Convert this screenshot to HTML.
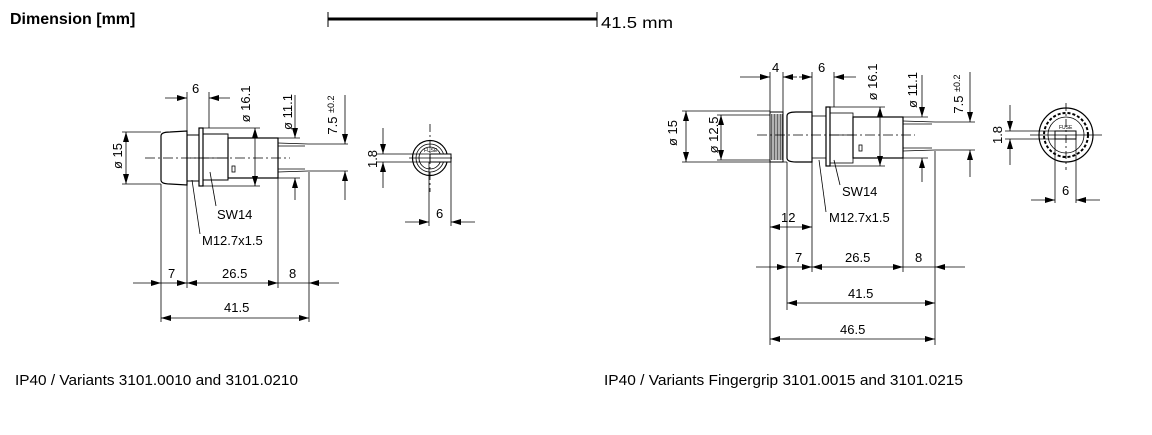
<!DOCTYPE html>
<html><head><meta charset="utf-8"><style>
html,body{margin:0;padding:0;background:#fff;}
svg{display:block;}
text{font-family:"Liberation Sans",Arial,sans-serif;fill:#000;}
</style></head><body>
<svg width="1152" height="435" viewBox="0 0 1152 435" xmlns="http://www.w3.org/2000/svg">
<defs>
<marker id="a" viewBox="0 0 10 6" refX="10" refY="3" markerWidth="10" markerHeight="6" markerUnits="userSpaceOnUse" orient="auto"><path d="M0,0L10,3L0,6z" fill="#000"/></marker>
</defs>
<text x="10" y="24" font-size="16" font-weight="bold">Dimension [mm]</text>
<line x1="328" y1="19" x2="597" y2="19" stroke="#000" stroke-width="3"/>
<line x1="328" y1="12" x2="328" y2="27" stroke="#000" stroke-width="1"/>
<line x1="597" y1="12" x2="597" y2="27" stroke="#000" stroke-width="1"/>
<text x="601" y="28" font-size="16" fill="#333" textLength="72" lengthAdjust="spacingAndGlyphs">41.5 mm</text>

<g stroke="#000" fill="none" stroke-width="0.8">
<!-- LEFT SIDE VIEW -->
<path d="M161,136 Q161,132 170,132 L187,131 L187,185 L170,184 Q161,184 161,180 Z" stroke-width="1.2"/>
<rect x="187" y="135" width="12" height="46" stroke-width="1"/>
<rect x="199" y="128" width="4" height="58" stroke-width="1.2"/>
<rect x="203" y="134" width="25" height="46" stroke-width="1"/>
<line x1="190" y1="158" x2="228" y2="158"/>
<rect x="228" y="138" width="50" height="40" stroke-width="1.2"/>
<rect x="232" y="166" width="3" height="6"/>
<line x1="278" y1="143" x2="308" y2="144"/><line x1="278" y1="146" x2="305" y2="146"/>
<line x1="278" y1="169" x2="305" y2="169"/><line x1="278" y1="172" x2="308" y2="171"/>
<line x1="145" y1="158" x2="290" y2="158" stroke-dasharray="10,3,2,3"/>
<line x1="122" y1="132" x2="161" y2="132"/><line x1="122" y1="184" x2="161" y2="184"/>
<line x1="203" y1="128" x2="260" y2="128"/><line x1="203" y1="186" x2="260" y2="186"/>
<line x1="278" y1="138" x2="300" y2="138"/><line x1="278" y1="178" x2="300" y2="178"/>
<line x1="308" y1="144" x2="348" y2="144"/><line x1="308" y1="171" x2="348" y2="171"/>
<line x1="187" y1="92" x2="187" y2="135"/><line x1="209" y1="92" x2="209" y2="128"/>
<line x1="161" y1="184" x2="161" y2="322"/><line x1="187" y1="185" x2="187" y2="288"/>
<line x1="278" y1="178" x2="278" y2="288"/><line x1="309" y1="172" x2="309" y2="322"/>
<line x1="165" y1="98" x2="187" y2="98" marker-end="url(#a)"/><line x1="230" y1="98" x2="209" y2="98" marker-end="url(#a)"/>
<line x1="126" y1="158" x2="126" y2="132" marker-end="url(#a)"/><line x1="126" y1="158" x2="126" y2="184" marker-end="url(#a)"/>
<line x1="255" y1="158" x2="255" y2="128" marker-end="url(#a)"/><line x1="255" y1="158" x2="255" y2="186" marker-end="url(#a)"/>
<line x1="295" y1="95" x2="295" y2="138" marker-end="url(#a)"/><line x1="295" y1="200" x2="295" y2="178" marker-end="url(#a)"/>
<line x1="345" y1="95" x2="345" y2="144" marker-end="url(#a)"/><line x1="345" y1="200" x2="345" y2="171" marker-end="url(#a)"/>
<line x1="133" y1="283" x2="161" y2="283" marker-end="url(#a)"/><line x1="174" y1="283" x2="187" y2="283" marker-end="url(#a)"/>
<line x1="174" y1="283" x2="161" y2="283"/><line x1="232" y1="283" x2="187" y2="283" marker-end="url(#a)"/>
<line x1="232" y1="283" x2="278" y2="283" marker-end="url(#a)"/><line x1="278" y1="283" x2="309" y2="283"/>
<line x1="339" y1="283" x2="309" y2="283" marker-end="url(#a)"/>
<line x1="235" y1="318" x2="161" y2="318" marker-end="url(#a)"/><line x1="235" y1="318" x2="309" y2="318" marker-end="url(#a)"/>
<line x1="210" y1="172" x2="216" y2="206"/><line x1="192" y1="180" x2="200" y2="234"/>
<!-- LEFT FRONT VIEW -->
<circle cx="430" cy="158" r="17.5" stroke-width="1.2"/><circle cx="430" cy="158" r="14"/><circle cx="430" cy="158" r="11"/>
<rect x="430" y="154" width="21" height="8" fill="#fff" stroke-width="1"/>
<line x1="409" y1="158" x2="452" y2="158"/><line x1="430" y1="124" x2="430" y2="192" stroke-dasharray="8,3,2,3"/>
<line x1="376" y1="154" x2="430" y2="154"/><line x1="376" y1="162" x2="430" y2="162"/>
<line x1="383" y1="128" x2="383" y2="154" marker-end="url(#a)"/><line x1="383" y1="188" x2="383" y2="162" marker-end="url(#a)"/>
<line x1="429" y1="162" x2="429" y2="226"/><line x1="451" y1="162" x2="451" y2="226"/>
<line x1="405" y1="222" x2="429" y2="222" marker-end="url(#a)"/><line x1="475" y1="222" x2="451" y2="222" marker-end="url(#a)"/>

<!-- RIGHT SIDE VIEW -->
<rect x="770" y="112" width="13" height="50" stroke-width="1"/>
<path d="M771.5,114 V160 M773,114 V160 M774.5,114 V160 M776,114 V160 M777.5,114 V160 M779,114 V160 M780.5,114 V160 M782,114 V160" stroke-width="0.6"/>
<path d="M787,116 Q787,112 796,112 L812,112 L812,162 L796,162 Q787,162 787,158 Z" stroke-width="1.2"/>
<rect x="812" y="116" width="14" height="42"/>
<rect x="826" y="107" width="4" height="59" stroke-width="1.2"/>
<rect x="830" y="113" width="23" height="50"/>
<line x1="830" y1="135" x2="853" y2="135"/>
<rect x="853" y="117" width="50" height="41" stroke-width="1.2"/>
<rect x="859" y="145" width="3" height="6"/>
<line x1="903" y1="121" x2="935" y2="122"/><line x1="903" y1="124" x2="932" y2="124"/>
<line x1="903" y1="148" x2="932" y2="148"/><line x1="903" y1="151" x2="935" y2="150"/>
<line x1="757" y1="135" x2="915" y2="135" stroke-dasharray="10,3,2,3"/>
<line x1="682" y1="111" x2="770" y2="111"/><line x1="682" y1="162" x2="787" y2="162"/>
<line x1="717" y1="115" x2="770" y2="115"/><line x1="717" y1="160" x2="770" y2="160"/>
<line x1="830" y1="107" x2="885" y2="107"/><line x1="830" y1="166" x2="885" y2="166"/>
<line x1="903" y1="117" x2="928" y2="117"/><line x1="903" y1="158" x2="928" y2="158"/>
<line x1="935" y1="122" x2="975" y2="122"/><line x1="935" y1="150" x2="975" y2="150"/>
<line x1="770" y1="72" x2="770" y2="345"/><line x1="783" y1="72" x2="783" y2="112"/>
<line x1="812" y1="72" x2="812" y2="112"/><line x1="834" y1="72" x2="834" y2="107"/>
<line x1="787" y1="162" x2="787" y2="310"/><line x1="812" y1="162" x2="812" y2="272"/>
<line x1="903" y1="158" x2="903" y2="272"/><line x1="935" y1="151" x2="935" y2="345"/>
<line x1="740" y1="77" x2="770" y2="77" marker-end="url(#a)"/><line x1="797" y1="77" x2="783" y2="77" marker-end="url(#a)"/>
<line x1="799" y1="77" x2="812" y2="77" marker-end="url(#a)"/><line x1="856" y1="77" x2="834" y2="77" marker-end="url(#a)"/>
<line x1="686" y1="135" x2="686" y2="111" marker-end="url(#a)"/><line x1="686" y1="135" x2="686" y2="162" marker-end="url(#a)"/>
<line x1="721" y1="135" x2="721" y2="115" marker-end="url(#a)"/><line x1="721" y1="135" x2="721" y2="160" marker-end="url(#a)"/>
<line x1="880" y1="135" x2="880" y2="107" marker-end="url(#a)"/><line x1="880" y1="135" x2="880" y2="166" marker-end="url(#a)"/>
<line x1="922" y1="75" x2="922" y2="117" marker-end="url(#a)"/><line x1="922" y1="182" x2="922" y2="158" marker-end="url(#a)"/>
<line x1="970" y1="72" x2="970" y2="122" marker-end="url(#a)"/><line x1="970" y1="177" x2="970" y2="150" marker-end="url(#a)"/>
<line x1="791" y1="227" x2="770" y2="227" marker-end="url(#a)"/><line x1="791" y1="227" x2="812" y2="227" marker-end="url(#a)"/>
<line x1="756" y1="267" x2="787" y2="267" marker-end="url(#a)"/><line x1="799" y1="267" x2="812" y2="267" marker-end="url(#a)"/>
<line x1="799" y1="267" x2="787" y2="267"/><line x1="858" y1="267" x2="812" y2="267" marker-end="url(#a)"/>
<line x1="858" y1="267" x2="903" y2="267" marker-end="url(#a)"/><line x1="903" y1="267" x2="935" y2="267"/>
<line x1="965" y1="267" x2="935" y2="267" marker-end="url(#a)"/>
<line x1="861" y1="303" x2="787" y2="303" marker-end="url(#a)"/><line x1="861" y1="303" x2="935" y2="303" marker-end="url(#a)"/>
<line x1="853" y1="339" x2="770" y2="339" marker-end="url(#a)"/><line x1="853" y1="339" x2="935" y2="339" marker-end="url(#a)"/>
<line x1="834" y1="160" x2="840" y2="185"/><line x1="819" y1="160" x2="826" y2="212"/>
<!-- RIGHT FRONT VIEW -->
<circle cx="1066" cy="135" r="27" stroke-width="1.2"/><circle cx="1066" cy="135" r="22" stroke-dasharray="3,2" stroke-width="2"/><circle cx="1066" cy="135" r="18"/>
<rect x="1055" y="131" width="21" height="8" fill="#fff" stroke-width="1"/>
<line x1="1030" y1="135" x2="1102" y2="135"/><line x1="1066" y1="103" x2="1066" y2="170" stroke-dasharray="8,3,2,3"/>
<line x1="1005" y1="131" x2="1055" y2="131"/><line x1="1005" y1="139" x2="1055" y2="139"/>
<line x1="1010" y1="105" x2="1010" y2="131" marker-end="url(#a)"/><line x1="1010" y1="165" x2="1010" y2="139" marker-end="url(#a)"/>
<line x1="1055" y1="139" x2="1055" y2="203"/><line x1="1076" y1="139" x2="1076" y2="203"/>
<line x1="1031" y1="200" x2="1055" y2="200" marker-end="url(#a)"/><line x1="1100" y1="200" x2="1076" y2="200" marker-end="url(#a)"/>
</g>

<g font-size="13">
<text x="192" y="93">6</text>
<text transform="translate(122,156) rotate(-90)" text-anchor="middle">ø 15</text>
<text transform="translate(250,104) rotate(-90)" text-anchor="middle">ø 16.1</text>
<text transform="translate(292,112) rotate(-90)" text-anchor="middle">ø 11.1</text>
<text transform="translate(337,115) rotate(-90)" text-anchor="middle">7.5 <tspan font-size="9" dy="-3">±0.2</tspan></text>
<text x="217" y="219">SW14</text>
<text x="202" y="245">M12.7x1.5</text>
<text x="168" y="278">7</text><text x="222" y="278">26.5</text><text x="289" y="278">8</text>
<text x="224" y="312">41.5</text>
<text transform="translate(377,159) rotate(-90)" text-anchor="middle">1.8</text>
<text x="436" y="218">6</text>

<text x="772" y="72">4</text><text x="818" y="72">6</text>
<text transform="translate(677,133) rotate(-90)" text-anchor="middle">ø 15</text>
<text transform="translate(718,135) rotate(-90)" text-anchor="middle">ø 12.5</text>
<text transform="translate(877,82) rotate(-90)" text-anchor="middle">ø 16.1</text>
<text transform="translate(917,90) rotate(-90)" text-anchor="middle">ø 11.1</text>
<text transform="translate(963,94) rotate(-90)" text-anchor="middle">7.5 <tspan font-size="9" dy="-3">±0.2</tspan></text>
<text x="842" y="196">SW14</text>
<text x="829" y="222">M12.7x1.5</text>
<text x="781" y="222">12</text>
<text x="795" y="262">7</text><text x="845" y="262">26.5</text><text x="915" y="262">8</text>
<text x="848" y="298">41.5</text><text x="840" y="334">46.5</text>
<text transform="translate(1002,135) rotate(-90)" text-anchor="middle">1.8</text>
<text x="1062" y="195">6</text>
</g>
<g font-size="5"><text x="424" y="152">FUSE</text><text x="1059" y="129">FUSE</text></g>
<text x="15" y="385" font-size="15" textLength="283" lengthAdjust="spacingAndGlyphs">IP40 / Variants 3101.0010 and 3101.0210</text>
<text x="604" y="385" font-size="15" textLength="359" lengthAdjust="spacingAndGlyphs">IP40 / Variants Fingergrip 3101.0015 and 3101.0215</text>
</svg>
</body></html>
